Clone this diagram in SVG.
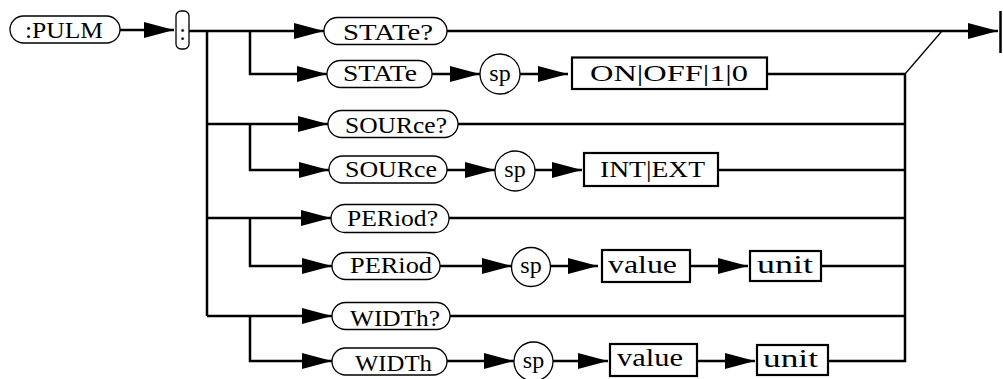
<svg xmlns="http://www.w3.org/2000/svg" width="1003" height="379" viewBox="0 0 1003 379">
<style>
.t{font-family:"Liberation Serif","Times New Roman",serif;font-size:24px;fill:#000}
.b{font-size:26px}
.pill{fill:#fff;stroke:#000;stroke-width:1.3}
.box{fill:#fff;stroke:#000;stroke-width:2.2}
.c{fill:none;stroke:#000;stroke-width:2.5}
.thin{fill:none;stroke:#000;stroke-width:1.3}
</style>
<defs>
<marker id="ah" markerUnits="userSpaceOnUse" markerWidth="30" markerHeight="16" refX="30" refY="8" orient="auto" overflow="visible">
<path d="M0,0 L30,8 L0,16 Z" fill="#000"/>
</marker>
</defs>
<g id="connectors">
<path class="c" d="M120,30 H174" marker-end="url(#ah)"/>
<path class="c" d="M189,31 H324" marker-end="url(#ah)"/>
<path class="c" d="M207,31 V316"/>
<path class="c" d="M207,124 H328" marker-end="url(#ah)"/>
<path class="c" d="M207,218 H331" marker-end="url(#ah)"/>
<path class="c" d="M207,316 H332" marker-end="url(#ah)"/>
<path class="c" d="M250,31 V74 H327" marker-end="url(#ah)"/>
<path class="c" d="M250,124 V170 H329" marker-end="url(#ah)"/>
<path class="c" d="M250,218 V266 H332" marker-end="url(#ah)"/>
<path class="c" d="M250,316 V361 H332" marker-end="url(#ah)"/>
<path class="c" d="M447,31 H998" marker-end="url(#ah)"/>
<path class="c" d="M1000.5,11 V53"/>
<path class="thin" d="M905,74 L942,31"/>
<path class="c" d="M432,74 H480" marker-end="url(#ah)"/>
<path class="c" d="M520,74 H568" marker-end="url(#ah)"/>
<path class="c" d="M767,74 H905"/>
<path class="c" d="M458,124 H905"/>
<path class="c" d="M447,170 H495" marker-end="url(#ah)"/>
<path class="c" d="M535,170 H582" marker-end="url(#ah)"/>
<path class="c" d="M718,170 H905"/>
<path class="c" d="M449,218 H905"/>
<path class="c" d="M440,266 H512" marker-end="url(#ah)"/>
<path class="c" d="M550,266 H598" marker-end="url(#ah)"/>
<path class="c" d="M690,266 H748" marker-end="url(#ah)"/>
<path class="c" d="M821,266 H905"/>
<path class="c" d="M450,316 H905"/>
<path class="c" d="M447,361 H514" marker-end="url(#ah)"/>
<path class="c" d="M553,361 H608" marker-end="url(#ah)"/>
<path class="c" d="M697,361 H755" marker-end="url(#ah)"/>
<path class="c" d="M828,361 H905 V74"/>
</g>
<g id="n-pulm"><rect class="pill" x="10" y="16" width="110" height="27" rx="13.5"/><text class="t" x="25" y="37.5" textLength="78" lengthAdjust="spacingAndGlyphs">:PULM</text></g>
<g id="n-colon"><rect class="pill" x="176" y="11" width="13" height="38" rx="5"/><text class="t" x="182.5" y="40" text-anchor="middle">:</text></g>
<g id="n-state-q"><rect class="pill" x="324" y="17.5" width="123" height="27" rx="13.5"/><text class="t" x="343" y="39.5" textLength="90" lengthAdjust="spacingAndGlyphs">STATe?</text></g>
<g id="n-state"><rect class="pill" x="327" y="60.5" width="105" height="27" rx="13.5"/><text class="t" x="343" y="80.5" textLength="74" lengthAdjust="spacingAndGlyphs">STATe</text></g>
<g id="n-sp1"><circle class="pill" cx="500" cy="74" r="20"/><text class="t" x="500" y="80.5" text-anchor="middle">sp</text></g>
<g id="n-onoff"><rect class="box" x="572" y="57.5" width="195" height="31.5"/><text class="t" x="590" y="80.5" textLength="158" lengthAdjust="spacingAndGlyphs">ON|OFF|1|0</text></g>
<g id="n-source-q"><rect class="pill" x="328" y="110.5" width="130" height="27" rx="13.5"/><text class="t" x="345" y="132.5" textLength="102" lengthAdjust="spacingAndGlyphs">SOURce?</text></g>
<g id="n-source"><rect class="pill" x="329" y="156" width="118" height="27" rx="13.5"/><text class="t" x="345" y="177" textLength="92" lengthAdjust="spacingAndGlyphs">SOURce</text></g>
<g id="n-sp2"><circle class="pill" cx="515" cy="171" r="20"/><text class="t" x="515" y="177" text-anchor="middle">sp</text></g>
<g id="n-intext"><rect class="box" x="584" y="153" width="134" height="33"/><text class="t" x="600" y="177" textLength="105" lengthAdjust="spacingAndGlyphs">INT|EXT</text></g>
<g id="n-period-q"><rect class="pill" x="331" y="204.5" width="118" height="28" rx="14"/><text class="t" x="347" y="225.5" textLength="91" lengthAdjust="spacingAndGlyphs">PERiod?</text></g>
<g id="n-period"><rect class="pill" x="332" y="252.5" width="108" height="27" rx="13.5"/><text class="t" x="350" y="272.5" textLength="82" lengthAdjust="spacingAndGlyphs">PERiod</text></g>
<g id="n-sp3"><circle class="pill" cx="531" cy="267" r="19.5"/><text class="t" x="531" y="273" text-anchor="middle">sp</text></g>
<g id="n-value1"><rect class="box" x="602" y="250" width="88" height="32"/><text class="t b" x="608" y="273" textLength="69" lengthAdjust="spacingAndGlyphs">value</text></g>
<g id="n-unit1"><rect class="box" x="750" y="251" width="71" height="30"/><text class="t b" x="757" y="273" textLength="56" lengthAdjust="spacingAndGlyphs">unit</text></g>
<g id="n-width-q"><rect class="pill" x="332" y="302.5" width="118" height="27" rx="13.5"/><text class="t" x="350" y="325.5" textLength="90" lengthAdjust="spacingAndGlyphs">WIDTh?</text></g>
<g id="n-width"><rect class="pill" x="332" y="348" width="115" height="27" rx="13.5"/><text class="t" x="355" y="371" textLength="77" lengthAdjust="spacingAndGlyphs">WIDTh</text></g>
<g id="n-sp4"><circle class="pill" cx="533.5" cy="361.5" r="19.5"/><text class="t" x="533.5" y="367.5" text-anchor="middle">sp</text></g>
<g id="n-value2"><rect class="box" x="610" y="344" width="87" height="32"/><text class="t b" x="617" y="366" textLength="66" lengthAdjust="spacingAndGlyphs">value</text></g>
<g id="n-unit2"><rect class="box" x="757" y="345" width="71" height="30"/><text class="t b" x="763" y="367" textLength="55" lengthAdjust="spacingAndGlyphs">unit</text></g>
</svg>
